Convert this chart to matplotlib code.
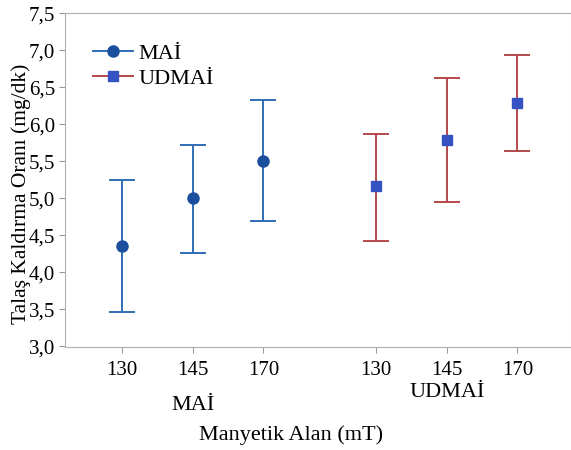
import matplotlib.pyplot as plt
from matplotlib.ticker import FuncFormatter

plt.rcParams['font.family'] = ['Liberation Serif', 'DejaVu Serif']

# mean removal rate and interval limits per magnetic field level
fields = ["130", "145", "170"]
mai_mean = [4.36, 5.00, 5.50]
mai_low = [3.46, 4.26, 4.69]
mai_high = [5.24, 5.72, 6.32]
udmai_mean = [5.16, 5.78, 6.28]
udmai_low = [4.42, 4.95, 5.64]
udmai_high = [5.86, 6.62, 6.93]

mai_x = [0, 1, 2]
udmai_x = [3.6, 4.6, 5.6]

fig = plt.figure(figsize=(5.71, 4.5), dpi=100)
ax = fig.add_axes([0.114, 0.229, 0.886, 0.742])

def draw_group(x, mean, low, high, lc, mc, marker, ms, label):
    err = [[m - l for m, l in zip(mean, low)], [h - m for m, h in zip(mean, high)]]
    ax.errorbar(x, mean, yerr=err, fmt='none', ecolor=lc, elinewidth=1.4,
                capsize=9.5, capthick=1.4)
    ax.plot(x, mean, linestyle='none', marker=marker, color=mc, markersize=ms)
    ax.plot([], [], color=lc, marker=marker, markerfacecolor=mc,
            markeredgecolor=mc, markersize=ms, lw=1.4, label=label)

draw_group(mai_x, mai_mean, mai_low, mai_high, '#2f6eb5', '#1b4f9e', 'o', 8, 'MAİ')
draw_group(udmai_x, udmai_mean, udmai_low, udmai_high, '#b4474a', '#3552c2', 's', 7.5, 'UDMAİ')

ax.set_xlim(-0.81, 6.36)
ax.set_ylim(2.99, 7.5)
ax.set_yticks([3.0, 3.5, 4.0, 4.5, 5.0, 5.5, 6.0, 6.5, 7.0, 7.5])
ax.yaxis.set_major_formatter(FuncFormatter(lambda v, p: f"{v:.1f}".replace('.', ',')))
ax.set_xticks(mai_x + udmai_x)
ax.set_xticklabels(fields + fields)
ax.tick_params(axis='y', labelsize=15, length=4, color='#999999', pad=3)
ax.tick_params(axis='x', labelsize=15, length=4, color='#999999', pad=6)

for side in ['top', 'bottom', 'left', 'right']:
    ax.spines[side].set_color('#b0b0b0')
ax.spines['right'].set_color('#eeeeee')

ax.set_ylabel("Talaş Kaldırma Oranı (mg/dk)", fontsize=15.5)
ax.yaxis.set_label_coords(-0.067, 0.46)
ax.text(1.0, -0.175, "MAİ", transform=ax.get_xaxis_transform(), ha='center',
        va='center', fontsize=16)
ax.text(4.6, -0.135, "UDMAİ", transform=ax.get_xaxis_transform(), ha='center',
        va='center', fontsize=16)
fig.text(0.51, 0.033, "Manyetik Alan (mT)", ha='center', va='center', fontsize=16)

ax.legend(loc='upper left', bbox_to_anchor=(0.025, 0.955), frameon=False,
          fontsize=16, handlelength=1.8, handletextpad=0.25,
          borderaxespad=0.3, labelspacing=0.2)

fig.savefig("out.png", dpi=100)
